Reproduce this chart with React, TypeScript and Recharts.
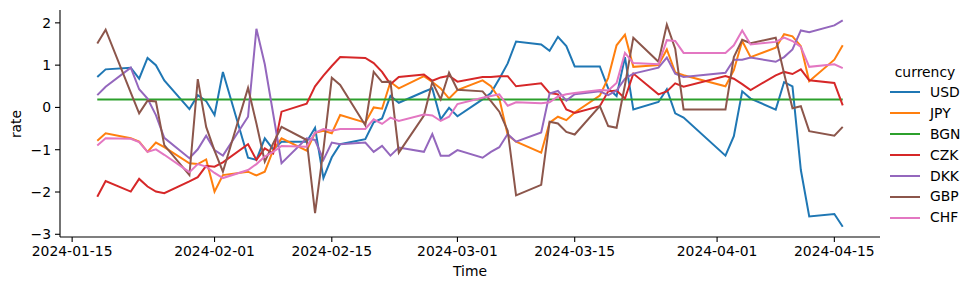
import { LineChart, Line, XAxis, YAxis } from 'recharts';

// business days, Jan 18 - Apr 16 2024
const DATES = [
  '2024-01-18', '2024-01-19', '2024-01-22', '2024-01-23', '2024-01-24', '2024-01-25', '2024-01-26', '2024-01-29', '2024-01-30', '2024-01-31',
  '2024-02-01', '2024-02-02', '2024-02-05', '2024-02-06', '2024-02-07', '2024-02-08', '2024-02-09', '2024-02-12', '2024-02-13', '2024-02-14',
  '2024-02-15', '2024-02-16', '2024-02-19', '2024-02-20', '2024-02-21', '2024-02-22', '2024-02-23', '2024-02-26', '2024-02-27', '2024-02-28', '2024-02-29',
  '2024-03-01', '2024-03-04', '2024-03-05', '2024-03-06', '2024-03-07', '2024-03-08', '2024-03-11', '2024-03-12', '2024-03-13', '2024-03-14',
  '2024-03-15', '2024-03-18', '2024-03-19', '2024-03-20', '2024-03-21', '2024-03-22', '2024-03-25', '2024-03-26', '2024-03-27', '2024-03-28',
  '2024-04-02', '2024-04-03', '2024-04-04', '2024-04-05', '2024-04-08', '2024-04-09', '2024-04-10', '2024-04-11', '2024-04-12', '2024-04-15', '2024-04-16',
];

const USD = [
  0.72, 0.9, 0.94, 0.68, 1.17, 1.0, 0.64, -0.04, 0.29, 0.15,
  -0.18, 0.84, -1.19, -1.24, -0.73, -0.99, -0.81, -0.81, -0.48, -1.67, -1.18, -0.87, -0.75, -0.35, -0.26, 0.27, 0.11, 0.37, 0.45, -0.28, -0.01,
  -0.21, 0.19, 0.34, 0.68, 1.04, 1.56, 1.49, 1.34, 1.67, 1.45, 0.97, 0.97, 0.45, 0.27, 1.19, -0.05, 0.13, 0.43, -0.14, -0.24,
  -1.14, -0.68, 0.38, 0.21, -0.05, 0.6, 0.5, -1.48, -2.58, -2.52, -2.82,
];
const JPY = [
  -0.79, -0.61, -0.73, -0.81, -1.05, -0.83, -0.94, -1.32, -1.34, -1.23,
  -1.99, -1.6, -1.52, -1.61, -1.52, -1.01, -0.73, -1.02, -0.6, -0.55, -0.61, -0.18, -0.36, 0.0, -0.03, 0.6, 0.45, 0.74, 0.6, 0.45, 0.21,
  0.41, 0.64, 0.5, 0.21, -0.65, -0.81, -1.07, -0.36, -0.22, -0.3, -0.12, 0.28, 0.7, 1.47, 1.72, 0.96, 1.0, 1.37, 0.83, 0.76,
  0.5, 0.88, 1.57, 1.19, 1.41, 1.73, 1.68, 1.45, 0.62, 1.13, 1.47,
];
const BGN = [
  0.19, 0.19, 0.19, 0.19, 0.19, 0.19, 0.19, 0.19, 0.19, 0.19,
  0.19, 0.19, 0.19, 0.19, 0.19, 0.19, 0.19, 0.19, 0.19, 0.19, 0.19, 0.19, 0.19, 0.19, 0.19, 0.19, 0.19, 0.19, 0.19, 0.19, 0.19,
  0.19, 0.19, 0.19, 0.19, 0.19, 0.19, 0.19, 0.19, 0.19, 0.19, 0.19, 0.19, 0.19, 0.19, 0.19, 0.19, 0.19, 0.19, 0.19, 0.19,
  0.19, 0.19, 0.19, 0.19, 0.19, 0.19, 0.19, 0.19, 0.19, 0.19, 0.19,
];
const CZK = [
  -2.11, -1.74, -1.99, -1.69, -1.87, -1.99, -2.03, -1.75, -1.65, -1.38,
  -1.4, -1.3, -0.87, -1.24, -0.97, -1.09, -0.1, 0.09, 0.5, 0.75, 0.98, 1.19, 1.17, 1.05, 0.84, 0.55, 0.72, 0.78, 0.63, 0.71, 0.75,
  0.61, 0.72, 0.72, 0.74, 0.74, 0.5, 0.57, 0.34, 0.31, -0.05, -0.13, 0.03, 0.38, 0.4, 0.21, 0.8, 0.31, 0.38, 0.57, 0.49,
  0.74, 0.68, 0.55, 0.41, 0.76, 0.84, 0.79, 0.9, 0.64, 0.58, 0.05,
];
const DKK = [
  0.29, 0.49, 0.94, 0.43, 0.21, -0.18, -0.72, -1.2, -0.99, -0.67,
  -1.01, -1.14, -0.22, 1.86, 1.02, -0.15, -1.32, -0.73, -0.77, -1.24, -0.83, -0.87, -0.83, -1.05, -0.91, -1.14, -0.95, -1.05, -0.63, -1.14, -1.14,
  -1.01, -1.19, -1.05, -0.94, -0.63, -0.81, -0.59, 0.33, 0.39, 0.16, 0.31, 0.38, 0.29, 0.4, 0.68, 0.8, 0.94, 1.18, 0.8, 0.72,
  0.82, 1.13, 1.13, 1.18, 1.08, 1.19, 1.37, 1.82, 1.78, 1.94, 2.06,
];
const GBP = [
  1.51, 1.84, 0.35, -0.14, 0.16, 0.14, -0.89, -1.6, 0.67, -0.46,
  -1.02, -1.52, 0.46, -0.38, -1.28, -0.85, -0.46, -0.77, -2.5, -1.0, 0.7, 0.53, -0.42, 0.84, 0.6, 0.61, -1.07, -0.19, 0.6, 0.19, 0.82,
  0.42, 0.38, 0.15, -0.1, -0.55, -2.08, -1.83, -0.34, -0.38, -0.58, -0.64, 0.03, -0.44, -0.48, 0.53, 1.65, 1.08, 1.96, 1.39, -0.05,
  -0.05, 1.19, 1.6, 1.52, 1.65, 0.8, -0.02, 0.03, -0.56, -0.67, -0.46,
];
const CHF = [
  -0.9, -0.73, -0.74, -0.82, -1.05, -0.99, -1.12, -1.53, -1.34, -1.4,
  -1.55, -1.67, -1.48, -1.34, -1.16, -1.05, -0.91, -0.93, -0.6, -0.51, -0.55, -0.51, -0.51, -0.28, -0.39, -0.24, -0.32, -0.17, -0.19, -0.32, -0.22,
  0.08, 0.23, 0.27, 0.31, 0.04, 0.12, 0.1, 0.12, 0.26, 0.31, 0.34, 0.41, 0.4, 0.58, 1.29, 1.05, 1.02, 1.59, 1.57, 1.29,
  1.29, 1.47, 1.82, 1.49, 1.55, 1.65, 1.57, 1.43, 0.96, 1.02, 0.93,
];

const X_TICKS = ['2024-01-15', '2024-02-01', '2024-02-15', '2024-03-01', '2024-03-15', '2024-04-01', '2024-04-15'];
const Y_TICKS = [-3, -2, -1, 0, 1, 2];

const SERIES = [
  { key: 'USD', values: USD, color: '#1f77b4' },
  { key: 'JPY', values: JPY, color: '#ff7f0e' },
  { key: 'BGN', values: BGN, color: '#2ca02c' },
  { key: 'CZK', values: CZK, color: '#d62728' },
  { key: 'DKK', values: DKK, color: '#9467bd' },
  { key: 'GBP', values: GBP, color: '#8c564b' },
  { key: 'CHF', values: CHF, color: '#e377c2' },
];

const FONT = '"DejaVu Sans", sans-serif';
const FS = 13.9;

const toTime = (d: string) => Date.parse(d + 'T00:00:00Z');
const fmtDate = (t: number) => new Date(t).toISOString().slice(0, 10);
const fmtNum = (v: number) => (v < 0 ? '\u2212' + Math.abs(v) : String(v));

const data = DATES.map((d, i) => {
  const row: Record<string, number> = { t: toTime(d) };
  SERIES.forEach((s) => {
    row[s.key] = s.values[i];
  });
  return row;
});

// matplotlib style 5% margins
function padded(min: number, max: number): [number, number] {
  const pad = (max - min) * 0.05;
  return [min - pad, max + pad];
}

const times = data.map((r) => r.t);
const xDomain = padded(Math.min(...times), Math.max(...times));
const allValues = SERIES.flatMap((s) => s.values);
const yDomain = padded(Math.min(...allValues), Math.max(...allValues));

function CurrencyLegend() {
  return (
    <div style={{ position: 'absolute', left: 886, top: 62, fontFamily: FONT, fontSize: FS, color: '#000' }}>
      <div style={{ textAlign: 'center', width: 78, height: 20, lineHeight: '20px' }}>currency</div>
      {SERIES.map((s) => (
        <div key={s.key} style={{ display: 'flex', alignItems: 'center', height: 20.9, lineHeight: '20.9px' }}>
          <div style={{ width: 30, height: 2, marginLeft: 4, background: s.color }} />
          <span style={{ marginLeft: 10 }}>{s.key}</span>
        </div>
      ))}
    </div>
  );
}

export default function App() {
  const tickStyle = { fill: '#000', fontSize: FS, fontFamily: FONT };
  return (
    <div style={{ position: 'absolute', left: 0, top: 0, width: 972, height: 290, background: '#fff' }}>
      <LineChart width={972} height={290} data={data} margin={{ top: 10, right: 92, bottom: 23, left: 10 }}>
        <XAxis
          dataKey="t"
          type="number"
          scale="linear"
          domain={xDomain}
          ticks={X_TICKS.map(toTime)}
          tickFormatter={fmtDate}
          height={30}
          tick={tickStyle}
          tickSize={5}
          tickMargin={4}
          axisLine={{ stroke: '#000', strokeWidth: 1.1 }}
          tickLine={{ stroke: '#000', strokeWidth: 1.1 }}
          allowDataOverflow
        />
        <YAxis
          type="number"
          domain={yDomain}
          ticks={Y_TICKS}
          tickFormatter={fmtNum}
          width={50}
          tick={tickStyle}
          tickSize={5}
          tickMargin={4}
          axisLine={{ stroke: '#000', strokeWidth: 1.1 }}
          tickLine={{ stroke: '#000', strokeWidth: 1.1 }}
          allowDataOverflow
        />
        {SERIES.map((s) => (
          <Line
            key={s.key}
            dataKey={s.key}
            stroke={s.color}
            strokeWidth={2}
            dot={false}
            activeDot={false}
            type="linear"
            isAnimationActive={false}
          />
        ))}
      </LineChart>
      <div style={{ position: 'absolute', left: 420, top: 263, width: 100, textAlign: 'center', fontFamily: FONT, fontSize: FS, color: '#000' }}>
        Time
      </div>
      <div
        style={{
          position: 'absolute',
          left: 16,
          top: 124,
          transform: 'translate(-50%, -50%) rotate(-90deg)',
          fontFamily: FONT,
          fontSize: FS,
          color: '#000',
        }}
      >
        rate
      </div>
      <CurrencyLegend />
    </div>
  );
}
